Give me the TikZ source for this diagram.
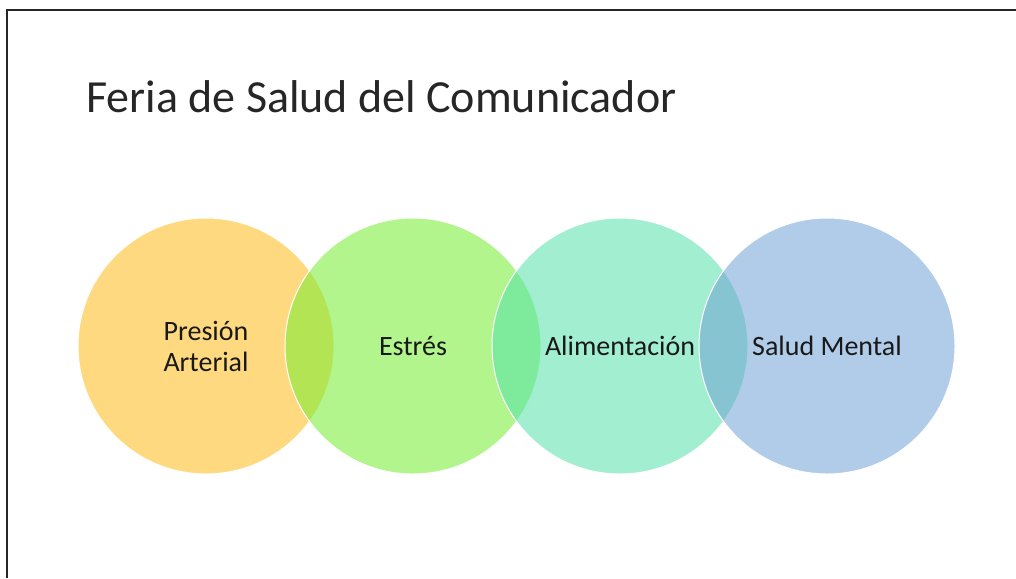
\documentclass[tikz,border=0pt]{standalone}
\usepackage{fontspec}
\setmainfont{Carlito}
\usetikzlibrary{positioning}
\definecolor{cOrange}{RGB}{255,186,24}
\definecolor{cGreen}{RGB}{115,237,46}
\definecolor{cTeal}{RGB}{83,224,170}
\definecolor{cBlue}{RGB}{112,163,213}
\begin{document}
\begin{tikzpicture}[x=1pt, y=-1pt, font=\fontsize{28}{31}\selectfont,
  topic/.style={circle, draw=white, line width=1pt, minimum size=256pt, inner sep=0pt, fill opacity=0.55, text opacity=1, align=center, text=black!90}]
\useasboundingbox (0,0) rectangle (1016,578);
\begin{scope}
\clip (0,0) rectangle (1016,578);
\draw[line width=2pt, black!85] (1016,10) -- (6.5,10) -- (6.5,578);
\end{scope}

\node[anchor=base west, font=\fontsize{46}{52}\selectfont, text=black!85, inner sep=0pt] (title) at (86,112) {Feria de Salud del Comunicador};

\node[topic, fill=cOrange] (presion) at (206,346) {Presión\\Arterial};
\node[topic, fill=cGreen, right=-50pt of presion] (estres) {Estrés};
\node[topic, fill=cTeal, right=-50pt of estres] (alim) {Alimentación};
\node[topic, fill=cBlue, right=-50pt of alim] (mental) {Salud Mental};
\end{tikzpicture}
\end{document}
